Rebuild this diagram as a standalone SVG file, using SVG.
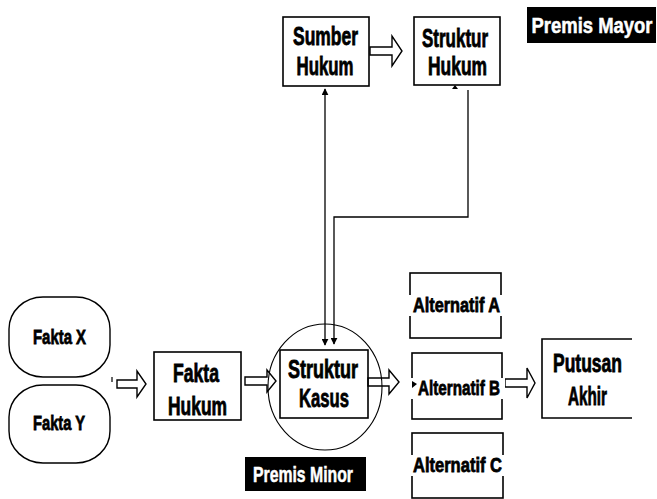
<svg xmlns="http://www.w3.org/2000/svg" width="657" height="499" viewBox="0 0 657 499">
<style>
.box{fill:none;stroke:#000;stroke-width:1.6}
.fakta{fill:#fff;stroke:#000;stroke-width:1.4}
.t{font-family:"Liberation Sans",Arial,sans-serif;font-weight:bold;fill:#000;stroke:#000;stroke-width:0.8;text-anchor:middle}
.big{font-size:25px}
.sm{font-size:21px}
.lbl{font-family:"Liberation Sans",Arial,sans-serif;font-weight:bold;fill:#fff;stroke:#fff;stroke-width:0.5;text-anchor:middle;font-size:22px}
.hollow{fill:#fff;stroke:#000;stroke-width:1.4;stroke-linejoin:miter}
.thin{fill:none;stroke:#000;stroke-width:1.3}
.gap{fill:#fff}
</style>
<defs>
<marker id="ah" viewBox="0 0 10 10" refX="9" refY="5" markerWidth="7" markerHeight="7" markerUnits="userSpaceOnUse" orient="auto-start-reverse">
<path d="M0,0 L10,5 L0,10 Z" fill="#000"/>
</marker>
</defs>
<rect width="657" height="499" fill="#fff"/>

<g id="connectors">
<path class="thin" d="M325,345 V89" marker-start="url(#ah)" marker-end="url(#ah)"/>
<path class="thin" d="M468,90 V217 H334 V344" marker-end="url(#ah)"/>
<path d="M452,89 L455,85 L458,89 Z" fill="#000"/>
<path class="hollow" d="M370,47 H392 V36 L402,51 L392,66 V55 H370 Z"/>
<path class="hollow" d="M117,380 H137 V371 L146,384 L137,397 V388 H117 Z"/>
<line x1="112" y1="377" x2="112" y2="382" stroke="#000" stroke-width="1.2"/>
<path class="hollow" d="M245,377 H267 V370 L276,381 L267,392 V385 H245 Z"/>
<path class="hollow" d="M368,378 H389 V370 L399,382 L389,394 V386 H368 Z"/>
<path class="hollow" d="M505,379 H527 V368 L535,383 L527,398 V387 H505 Z"/>
</g>

<g id="premis-mayor">
<rect x="527" y="7" width="129" height="36" fill="#000"/>
<text class="lbl" transform="translate(592,33) scale(0.84,1)" x="0" y="0">Premis Mayor</text>
</g>

<g id="sumber-hukum">
<rect class="box" x="283" y="17" width="86" height="69"/>
<text class="t big" x="325.5" y="45" textLength="65" lengthAdjust="spacingAndGlyphs">Sumber</text>
<text class="t big" x="325" y="75" textLength="57" lengthAdjust="spacingAndGlyphs">Hukum</text>
</g>

<g id="struktur-hukum">
<rect class="box" x="414" y="17" width="86" height="68"/>
<text class="t big" x="455" y="47" textLength="66" lengthAdjust="spacingAndGlyphs">Struktur</text>
<text class="t big" x="457.5" y="75" textLength="59" lengthAdjust="spacingAndGlyphs">Hukum</text>
</g>

<g id="fakta-x">
<rect class="fakta" x="9" y="297" width="101" height="80" rx="34" ry="32"/>
<text class="t sm" x="59.5" y="344" textLength="53" lengthAdjust="spacingAndGlyphs">Fakta X</text>
</g>

<g id="fakta-y">
<rect class="fakta" x="9" y="385" width="101" height="78" rx="34" ry="32"/>
<text class="t sm" x="59" y="430" textLength="52" lengthAdjust="spacingAndGlyphs">Fakta Y</text>
</g>

<g id="fakta-hukum">
<rect class="box" x="154" y="352" width="87" height="68"/>
<text class="t big" x="196" y="382" textLength="46" lengthAdjust="spacingAndGlyphs">Fakta</text>
<text class="t big" x="197.5" y="415" textLength="59" lengthAdjust="spacingAndGlyphs">Hukum</text>
</g>

<g id="struktur-kasus">
<ellipse cx="325" cy="387" rx="57" ry="63" fill="none" stroke="#000" stroke-width="1.1"/>
<rect class="box" x="280" y="350" width="88" height="68"/>
<text class="t big" x="323" y="378" textLength="70" lengthAdjust="spacingAndGlyphs">Struktur</text>
<text class="t big" x="324" y="407" textLength="50" lengthAdjust="spacingAndGlyphs">Kasus</text>
</g>

<g id="premis-minor">
<rect x="245" y="457" width="121" height="34" fill="#000"/>
<text class="lbl" x="303" y="482" font-size="23" textLength="100" lengthAdjust="spacingAndGlyphs">Premis Minor</text>
</g>

<g id="alternatif-a">
<rect class="box" x="410" y="273" width="91" height="65"/>
<rect class="gap" x="408" y="295" width="5" height="21"/>
<rect class="gap" x="499" y="295" width="5" height="21"/>
<text class="t sm" x="456.5" y="312" textLength="87" lengthAdjust="spacingAndGlyphs">Alternatif A</text>
</g>

<g id="alternatif-b">
<rect class="box" x="412" y="353" width="90" height="66"/>
<rect class="gap" x="410" y="378" width="5" height="21"/>
<rect class="gap" x="500" y="378" width="5" height="21"/>
<path d="M412,381 L417,384 L412,388 Z" fill="#000"/>
<text class="t sm" x="459" y="395" textLength="82" lengthAdjust="spacingAndGlyphs">Alternatif B</text>
</g>

<g id="alternatif-c">
<rect class="box" x="412" y="433" width="91" height="65"/>
<rect class="gap" x="410" y="455" width="5" height="21"/>
<rect class="gap" x="501" y="455" width="5" height="21"/>
<text class="t sm" x="457.5" y="472" textLength="89" lengthAdjust="spacingAndGlyphs">Alternatif C</text>
</g>

<g id="putusan-akhir">
<path class="box" d="M632,339 H542 V418 H632"/>
<text class="t big" x="587.5" y="372" textLength="69" lengthAdjust="spacingAndGlyphs">Putusan</text>
<text class="t big" x="587.5" y="405" textLength="39" lengthAdjust="spacingAndGlyphs">Akhir</text>
</g>
</svg>
